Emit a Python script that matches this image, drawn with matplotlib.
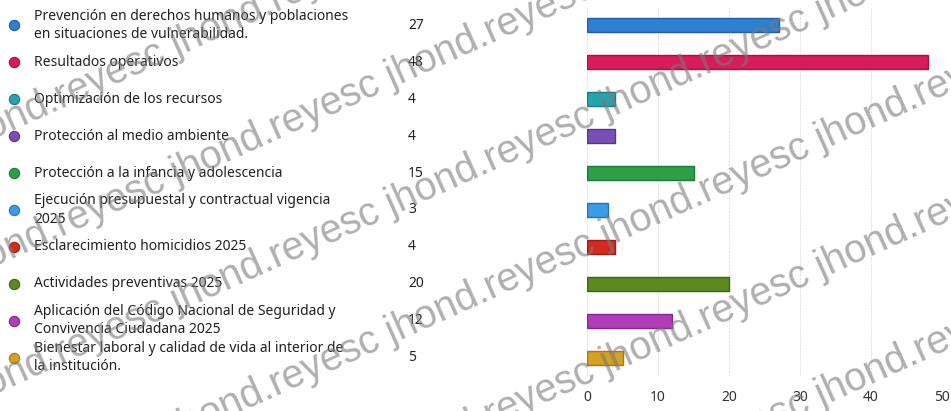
import math
import matplotlib
matplotlib.use("Agg")
import matplotlib.pyplot as plt

plt.rcParams['font.family'] = ['Noto Sans', 'DejaVu Sans']

categories = [
    "Prevención en derechos humanos y poblaciones\nen situaciones de vulnerabilidad.",
    "Resultados operativos",
    "Optimización de los recursos",
    "Protección al medio ambiente",
    "Protección a la infancia y adolescencia",
    "Ejecución presupuestal y contractual vigencia\n2025",
    "Esclarecimiento homicidios 2025",
    "Actividades preventivas 2025",
    "Aplicación del Código Nacional de Seguridad y\nConvivencia Ciudadana 2025",
    "Bienestar laboral y calidad de vida al interior de\nla institución.",
]
values = [27, 48, 4, 4, 15, 3, 4, 20, 12, 5]
colors = ["#2f7fd3", "#d81b5c", "#26a3ad", "#7a4fb5", "#2ca048",
          "#3b9ce6", "#d42a1e", "#5b8a1f", "#b23cb8", "#d6a020"]
edge_colors = ["#1f5fa8", "#a8123f", "#1a7a82", "#563589", "#1e7a33",
               "#2374b8", "#a01d14", "#3f6413", "#822a87", "#a57a10"]
xticks = [0, 10, 20, 30, 40, 50]
watermark = "jhond.reyesc"

W, H = 951, 411
fig = plt.figure(figsize=(W/100, H/100), dpi=100)
fig.patch.set_facecolor("white")

# bar axes
x0, x1 = 587, 942
ytop, ybot = 7, 376
ax = fig.add_axes([x0/W, (H-ybot)/H, (x1-x0)/W, (ybot-ytop)/H])
n = len(categories)
ax.set_xlim(0, 50)
ax.set_ylim(n-0.5, -0.5)
for s in ax.spines.values():
    s.set_visible(False)
ax.set_yticks([])
ax.set_xticks(xticks)
ax.set_xticklabels([str(t) for t in xticks], fontsize=10, color="#333333")
ax.tick_params(axis='x', length=0, pad=10)
ax.grid(axis='x', color="#e3e3e8", linewidth=0.8, linestyle=(0, (2, 1)))
ax.set_axisbelow(True)
bh = 0.38
for i, (v, c, ec) in enumerate(zip(values, colors, edge_colors)):
    ax.barh(i, v, height=bh, color=c, edgecolor=ec, linewidth=1.0, zorder=3)

# legend / label axes
lx = fig.add_axes([0, (H-ybot)/H, x0/W, (ybot-ytop)/H])
lx.set_xlim(0, x0)
lx.set_ylim(n-0.5, -0.5)
lx.axis('off')
for i, (cat, v, c, ec) in enumerate(zip(categories, values, colors, edge_colors)):
    lx.scatter([14], [i], s=55, color=c, edgecolor=ec, linewidth=0.8, zorder=3)
    lx.text(34, i, cat, fontsize=10, va='center', ha='left', color="#222222",
            linespacing=1.3)
    lx.text(408, i, str(v), fontsize=10, va='center', ha='left', color="#222222")

# watermark: tiled diagonal rows
slope = 0.45
ang = math.degrees(math.atan(slope))
row_text = " ".join([watermark] * 6)
xs = -42
for b in [125, 253, 381, 509, 637, 765]:
    ys = b - slope * xs
    fig.text(xs / W, (H - ys) / H, row_text, fontsize=28.5,
             family=['Liberation Sans', 'DejaVu Sans'],
             color="#7a7a7a", alpha=0.6, rotation=ang, rotation_mode='anchor',
             ha='left', va='center', zorder=10)

fig.savefig("out.png", dpi=100, facecolor="white")
